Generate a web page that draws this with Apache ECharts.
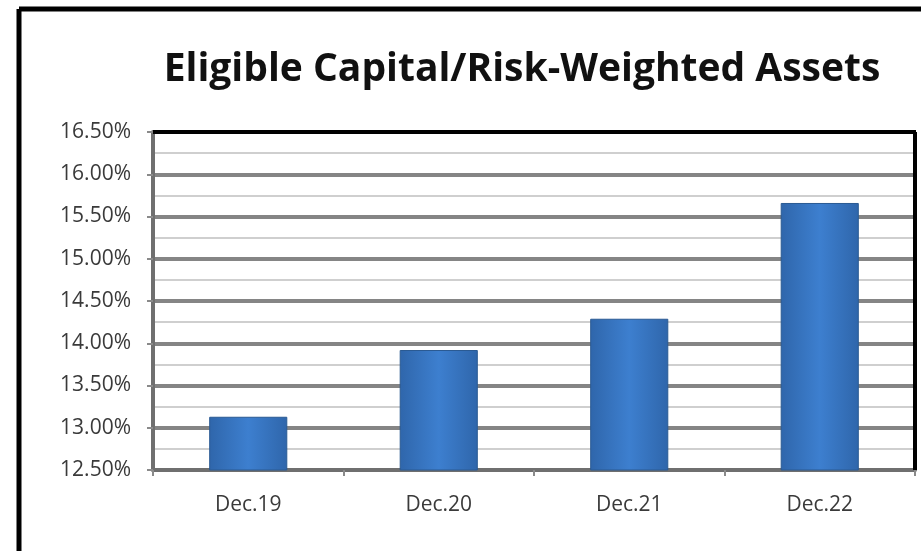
<!DOCTYPE html>
<html>
<head>
<meta charset="utf-8">
<script src="https://cdn.jsdelivr.net/npm/echarts@6/dist/echarts.min.js"></script>
<style>
  html, body { margin: 0; padding: 0; background: #fff; }
  #chart { width: 921px; height: 551px; }
</style>
</head>
<body>
<div id="chart"></div>
<script>
const titleText = "Eligible Capital/Risk-Weighted Assets";
const periods = ["Dec.19", "Dec.20", "Dec.21", "Dec.22"];
const ratios = [13.13, 13.92, 14.29, 15.66];
const yMin = 12.5;
const yMax = 16.5;
const yStep = 0.5;

const chart = echarts.init(document.getElementById("chart"));

const barFill = new echarts.graphic.LinearGradient(0, 0, 1, 0, [
  { offset: 0, color: "#2f66ab" },
  { offset: 0.5, color: "#3d7fcf" },
  { offset: 1, color: "#2f66ab" },
]);

// plot box, used for the black top/right edges
const gLeft = 153, gRight = 6, gTop = 132, gBottom = 81;

chart.setOption({
  backgroundColor: "#fff",
  animation: false,
  title: {
    text: titleText,
    left: 517,
    top: 45,
    textAlign: "center",
    textStyle: {
      fontFamily: "Open Sans",
      fontWeight: "bold",
      fontSize: 39,
      color: "#111",
    },
  },
  graphic: [
    // outer frame of the picture (left and top edges visible)
    { type: "line", shape: { x1: 19, y1: 9, x2: 921, y2: 9 }, style: { stroke: "#000", lineWidth: 5 } },
    { type: "line", shape: { x1: 19, y1: 9, x2: 19, y2: 551 }, style: { stroke: "#000", lineWidth: 5 } },
    // black top and right edges of the plot box
    { type: "line", z: 100, shape: { x1: gLeft, y1: gTop, x2: 921 - gRight + 1, y2: gTop }, style: { stroke: "#000", lineWidth: 4 } },
    { type: "line", z: 100, shape: { x1: 921 - gRight, y1: gTop, x2: 921 - gRight, y2: 551 - gBottom }, style: { stroke: "#000", lineWidth: 4 } },
  ],
  grid: {
    left: gLeft,
    right: gRight,
    top: gTop,
    bottom: gBottom,
  },
  xAxis: {
    type: "category",
    data: periods,
    axisLine: { lineStyle: { color: "#6f6f6f", width: 4 } },
    axisTick: { show: true, length: 6, lineStyle: { color: "#8a8a8a", width: 2 } },
    axisLabel: {
      color: "#3a3a3a",
      fontFamily: "Open Sans",
      fontSize: 21,
      margin: 25,
    },
  },
  yAxis: {
    type: "value",
    min: yMin,
    max: yMax,
    interval: yStep,
    axisLine: { show: true, lineStyle: { color: "#6f6f6f", width: 4 } },
    axisTick: { show: true, length: 6, lineStyle: { color: "#8a8a8a", width: 2 } },
    axisLabel: {
      color: "#3a3a3a",
      fontFamily: "Open Sans",
      fontSize: 21,
      margin: 22,
      formatter: (v) => v.toFixed(2) + "%",
    },
    splitLine: { lineStyle: { color: "#858585", width: 4 } },
    minorTick: { show: false, splitNumber: 2 },
    minorSplitLine: { show: true, lineStyle: { color: "#cfcfcf", width: 2 } },
  },
  series: [
    {
      type: "bar",
      data: ratios,
      barWidth: "41%",
      itemStyle: {
        color: barFill,
        borderColor: "#2a5a93",
        borderWidth: 1,
      },
    },
  ],
});
</script>
</body>
</html>
